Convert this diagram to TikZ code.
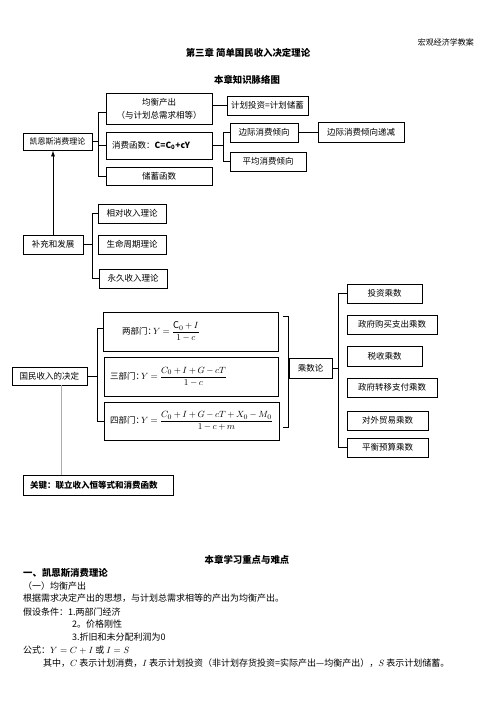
\documentclass[tikz,border=0pt]{standalone}
\usepackage{amsmath}
\usepackage{fontspec}
\setmainfont{Noto Sans CJK SC}
\usetikzlibrary{arrows.meta}
\tikzset{
  bx/.style 2 args={draw,line width=0.8pt,inner sep=0pt,minimum width=#1pt,minimum height=#2pt,font=\fontsize{8.5}{13}\selectfont},
  conn/.style={line width=0.8pt},
  txt/.style={inner sep=0pt,font=\fontsize{8.5}{10}\selectfont},
  frm/.style={inner sep=0pt,anchor=west,font=\fontsize{9.3}{11}\selectfont},
  body/.style={inner sep=0pt,anchor=west,font=\fontsize{9}{11}\selectfont},
  head/.style={inner sep=0pt,font=\fontsize{9.4}{11}\selectfont\bfseries}
}
\newcommand{\frmlabel}[1]{{\fontsize{8.5}{10}\selectfont #1}\hspace{-3pt}}
\newcommand{\tightmath}{\medmuskip=3mu\relax\thickmuskip=4mu\relax}
\begin{document}
\begin{tikzpicture}[x=1pt,y=-1pt]
\useasboundingbox (0,0) rectangle (496,702);
\fill[white] (0,0) rectangle (496,702);

% page header and titles
\node[txt,anchor=east,font=\fontsize{8}{10}\selectfont] (hdr) at (474,42) {宏观经济学教案};
\node[head] (ttl) at (248,53) {第三章\ 简单国民收入决定理论};
\node[head] (sub) at (247,80) {本章知识脉络图};

% Keynes consumption theory
\node[bx={106}{31},align=center] (jh) at (159,108.5) {均衡产出\\（与计划总需求相等）};
\node[bx={81}{19}] (jt) at (267.5,105.5) {计划投资=计划储蓄};
\node[bx={69}{17},font=\fontsize{8}{10}\selectfont] (ks) at (57.5,141.5) {凯恩斯消费理论};
\node[bx={106}{27}] (xf) at (159,145.5) {};
\node[txt,anchor=west] (xft) at (112,145.5) {消费函数：\textbf{C=C\textsubscript{0}+cY}};
\node[bx={106}{18}] (cx) at (159,176) {储蓄函数};
\node[bx={68}{19}] (bj) at (264,132.5) {边际消费倾向};
\node[bx={76}{19}] (pj) at (268,161.5) {平均消费倾向};
\node[bx={86}{20}] (dj) at (361,132) {边际消费倾向递减};

% supplements
\node[bx={60}{19}] (bc) at (53,244.5) {补充和发展};
\node[bx={68}{19}] (xd) at (132,213.5) {相对收入理论};
\node[bx={68}{19}] (sm) at (132,244.5) {生命周期理论};
\node[bx={68}{19}] (yj) at (133,278.5) {永久收入理论};

% national income determination
\node[bx={75}{18}] (gm) at (49.5,376) {国民收入的决定};
\node[bx={175}{39}] (lb) at (190.5,331.5) {};
\node[bx={174}{39}] (sb) at (191,376.5) {};
\node[bx={175}{38}] (sib) at (191.5,421) {};
\node[frm] (f2) at (122,331.5)
  {\frmlabel{两部门：}$\tightmath Y=\dfrac{\mathrm{C}_0+I}{1-c}$};
\node[frm] (f3) at (110,376.5)
  {\frmlabel{三部门：}$\tightmath Y=\dfrac{C_0+I+G-cT}{1-c}$};
\node[frm] (f4) at (110,421)
  {\frmlabel{四部门：}$\tightmath Y=\dfrac{C_0+I+G-cT+X_0-M_0}{1-c+m}$};

% multipliers
\node[bx={43}{20}] (cs) at (310.5,368) {乘数论};
\node[bx={75}{19}] (tz) at (384.5,293.5) {投资乘数};
\node[bx={90}{19}] (zg) at (392,324.5) {政府购买支出乘数};
\node[bx={75}{20}] (ss) at (384.5,356) {税收乘数};
\node[bx={90}{19}] (zz) at (392,387.5) {政府转移支付乘数};
\node[bx={81}{19}] (dw) at (387.5,420.5) {对外贸易乘数};
\node[bx={81}{19}] (ph) at (387.5,447.5) {平衡预算乘数};

% key box
\node[bx={150}{20}] (gj) at (98,485) {};
\node[txt,anchor=west,font=\fontsize{8.5}{10}\selectfont\bfseries] (gjt) at (30,485) {关键：联立收入恒等式和消费函数};

% connectors
\coordinate (kx) at (98,0);
\draw[conn] (ks.east) -- (ks.east -| kx);
\draw[conn] ([yshift=-3.5pt]jh.west) -| (kx |- cx.west) -- (cx.west);
\draw[conn] (xf.west) -- (xf.west -| kx);
\draw[conn] (jh.east |- jt.west) -- (jt.west);

\coordinate (xx) at (223,0);
\draw[conn] (xf.east) -- (xf.east -| xx);
\draw[conn] (bj.west) -| (xx |- pj.west) -- (pj.west);
\draw[conn] (bj.east) -- (bj.east -| dj.west);

\draw[conn,-{Latex[length=6pt,width=4pt]}] (bc.north) -- (bc.north |- ks.south);

\coordinate (bxx) at (92,0);
\draw[conn] (bc.east) -- (bc.east -| bxx);
\draw[conn] (xd.west) -| (bxx |- yj.west) -- (yj.west);

\coordinate (gx) at (97,0);
\draw[conn] (gm.east) -- (gm.east -| gx);
\draw[conn] ([yshift=3.5pt]lb.west) -| (gx |- sib.west) -- (sib.west);

\draw[line width=1pt,gray!65] ([xshift=11.5pt]gm.south) -- ([xshift=11.5pt]gm.south |- gj.north);

\coordinate (r1) at (283,316);
\coordinate (r2) at (283,427);
\draw[conn] (r1) -- (r1 -| cs.west) -- (r2 -| cs.west) -- (r2);

\coordinate (mx) at (338,0);
\draw[conn] (cs.east) -- (cs.east -| mx);
\draw[conn] (tz.west) -| (mx |- ph.west) -- (ph.west);

% study notes
\node[head] (sub2) at (247,560) {本章学习重点与难点};
\node[head,anchor=west] (h1) at (23,573) {一、凯恩斯消费理论};
\node[body] (h2) at (23,586) {（一）均衡产出};
\node[body] (t1) at (23,598) {根据需求决定产出的思想，与计划总需求相等的产出为均衡产出。};
\node[body] (t2) at (23,612) {假设条件：1.两部门经济};
\node[body] (t3) at (72,624.5) {2。价格刚性};
\node[body] (t4) at (72,637) {3.折旧和未分配利润为0};
\node[body] (t5) at (23,650) {公式：$Y=C+I$ 或 $I=S$};
\node[body] (t6) at (43,663) {其中，$C$ 表示计划消费，$I$ 表示计划投资（非计划存货投资=实际产出—均衡产出），$S$ 表示计划储蓄。};
\end{tikzpicture}
\end{document}
